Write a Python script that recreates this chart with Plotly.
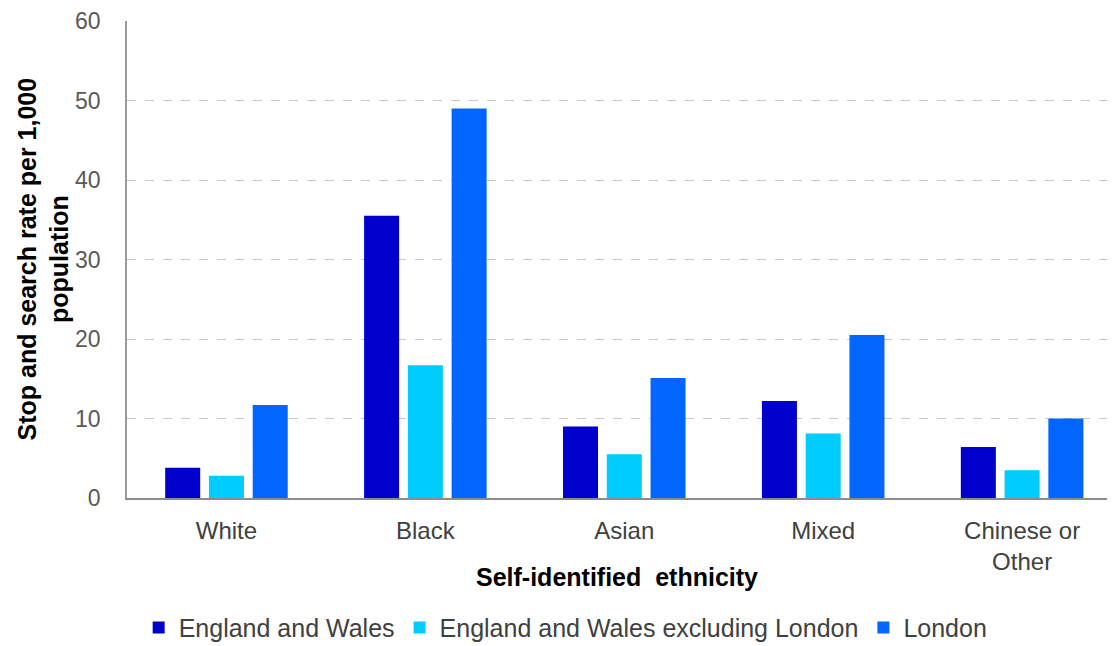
import plotly.graph_objects as go

categories = ["White", "Black", "Asian", "Mixed", "Chinese or<br>Other"]
series_names = ["England and Wales", "England and Wales excluding London", "London"]
england_wales = [3.8, 35.5, 9.0, 12.2, 6.4]
ew_excl_london = [2.8, 16.7, 5.5, 8.1, 3.5]
london = [11.7, 49.0, 15.1, 20.5, 10.0]
colors = ["#0000CC", "#00CCFF", "#0066FF"]
y_ticks = [0, 10, 20, 30, 40, 50, 60]
y_title = "Stop and search rate per 1,000<br>population"
x_title = "Self-identified\u00a0 ethnicity"

FONT = "Liberation Sans, Arial, sans-serif"

fig = go.Figure()
for name, vals, col in zip(series_names, [england_wales, ew_excl_london, london], colors):
    fig.add_trace(go.Bar(x=categories, y=vals, name=name, marker=dict(color=col, line=dict(width=0))))

# page body has an 8px default margin, so the figure is 8px smaller than the window
fig.update_layout(
    width=1107, height=638,
    margin=dict(l=119, r=0, t=13, b=148, autoexpand=False),
    paper_bgcolor="white", plot_bgcolor="white",
    barmode="group", bargap=0.34, bargroupgap=0.2,
    font=dict(family=FONT, size=23, color="#404040"),
    showlegend=True,
    legend=dict(orientation="h", x=0.444, xanchor="center", y=-0.272, yanchor="middle",
                font=dict(size=25, color="#404040"), itemwidth=30, tracegroupgap=0,
                borderwidth=0, bgcolor="rgba(0,0,0,0)"),
    annotations=[
        dict(text="<b>" + y_title + "</b>", xref="paper", yref="paper", x=0, y=0.5,
             xshift=-84, textangle=-90, xanchor="center", yanchor="middle", showarrow=False,
             font=dict(size=25, color="black", family=FONT)),
        dict(text="<b>" + x_title + "</b>", xref="paper", yref="paper", x=0.496, y=0,
             yshift=-79, xanchor="center", yanchor="middle", showarrow=False,
             font=dict(size=25, color="black", family=FONT)),
    ],
)
fig.update_xaxes(
    range=[-0.5, 4.467], automargin=False,
    showline=True, linecolor="#8c8c8c", linewidth=1.5,
    ticks="", ticklabelstandoff=10,
    tickfont=dict(size=24, color="#404040"),
)
fig.update_yaxes(
    range=[0, 60], tickvals=y_ticks, automargin=False,
    showline=True, linecolor="#9a9a9a", linewidth=1.5,
    showgrid=True, gridcolor="#c8c8c8", griddash="dash", gridwidth=1,
    zeroline=False,
    ticks="", ticklabelstandoff=20,
    tickfont=dict(size=23, color="#595959"),
)

fig.write_html("out.html")
